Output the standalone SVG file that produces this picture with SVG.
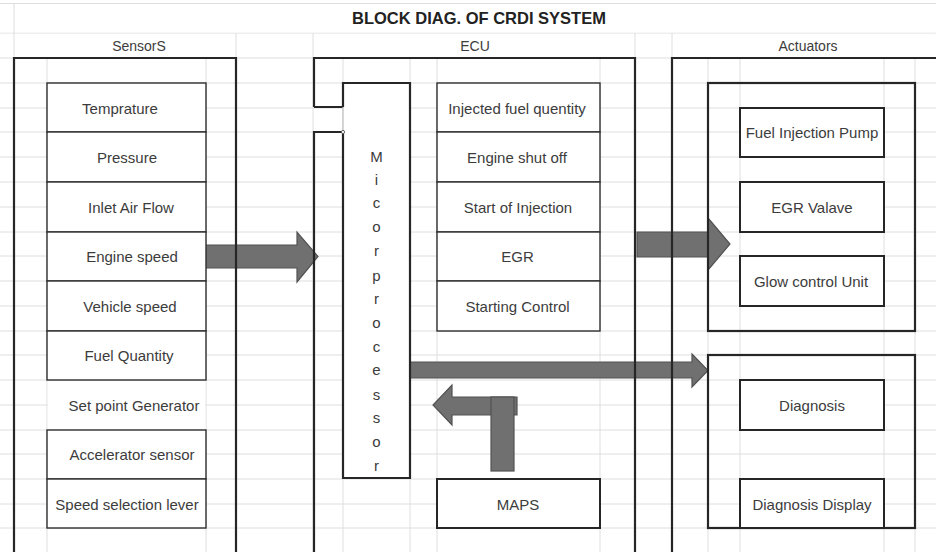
<svg xmlns="http://www.w3.org/2000/svg" width="936" height="552" viewBox="0 0 936 552">
<style>
.g{stroke:#dedede;stroke-width:1;fill:none}
.ob{fill:none;stroke:#262626;stroke-width:2.2}
.bx{fill:#fff;stroke:#2e2e2e;stroke-width:1.4}
.bx2{fill:#fff;stroke:#262626;stroke-width:2}
.t{font-family:"Liberation Sans",Arial,sans-serif;font-size:15px;fill:#3c3c3c;text-anchor:middle}
.h{font-family:"Liberation Sans",Arial,sans-serif;font-size:14px;fill:#3c3c3c;text-anchor:middle}
.ti{font-family:"Liberation Sans",Arial,sans-serif;font-size:16.5px;font-weight:bold;fill:#222;text-anchor:middle}
.ar{fill:#707070;stroke:#525252;stroke-width:1.2;stroke-linejoin:miter}
</style>
<rect width="936" height="552" fill="#fff"/>
<g id="grid">
<path class="g" d="M0,3.5H936M0,33H936M0,58H936M0,83H936M0,108H936M0,132H936M0,157H936M0,182H936M0,207H936M0,232H936M0,256H936M0,281H936M0,306H936M0,331H936M0,355H936M0,380H936M0,405H936M0,430H936M0,454H936M0,479H936M0,504H936M0,528H936"/>
<path class="g" d="M14,3.5V552M236,33V552M313,33V552M635,33V552M672,33V552M47,58V552M206,58V552M343,58V552M410,58V552M437,58V552M600,58V552M708,58V552M740,58V552M884,58V552M915,58V552"/>
</g>
<rect x="1" y="4.5" width="934" height="28" fill="#fff"/>
<path class="g" d="M14,3.5V33"/>
<g id="title"><text class="ti" x="479" y="24">BLOCK DIAG. OF CRDI SYSTEM</text></g>
<g id="headers">
<text class="h" x="139" y="51">SensorS</text>
<text class="h" x="475" y="51">ECU</text>
<text class="h" x="808" y="51">Actuators</text>
</g>
<g id="connectors">
<polygon class="ar" points="205,245 297,245 297,232 318,256.5 297,282 297,268 205,268"/>
<polygon class="ar" points="637,232 708,232 708,218 730,244 708,270 708,257 637,257"/>
<polygon class="ar" points="410,362 692,362 692,354 708,370.5 692,387 692,378 410,378"/>
<polygon class="ar" points="517,397 452,397 452,385 433,405 452,425 452,415 517,415"/>
<rect class="ar" x="491" y="397" width="23" height="74"/>
</g>
<g id="sensors">
<path class="ob" d="M14,552V58H236V552"/>
<g id="s-temp"><rect class="bx" x="47" y="83" width="159" height="49"/><text class="t" x="120" y="113.5">Temprature</text></g>
<g id="s-pres"><rect class="bx" x="47" y="132" width="159" height="50"/><text class="t" x="127" y="162.5">Pressure</text></g>
<g id="s-air"><rect class="bx" x="47" y="182" width="159" height="50"/><text class="t" x="131" y="212.5">Inlet Air Flow</text></g>
<g id="s-eng"><rect class="bx" x="47" y="232" width="159" height="49"/><text class="t" x="132" y="262">Engine speed</text></g>
<g id="s-veh"><rect class="bx" x="47" y="281" width="159" height="50"/><text class="t" x="130" y="311.5">Vehicle speed</text></g>
<g id="s-fuel"><rect class="bx" x="47" y="331" width="159" height="49"/><text class="t" x="129" y="360.5">Fuel Quantity</text></g>
<g id="s-set"><rect x="47.7" y="381" width="157.6" height="48.3" fill="#fff"/><text class="t" x="134" y="410.5">Set point Generator</text></g>
<g id="s-acc"><rect class="bx" x="47" y="430" width="159" height="49"/><text class="t" x="132" y="460">Accelerator sensor</text></g>
<g id="s-lev"><rect class="bx" x="47" y="479" width="159" height="49"/><text class="t" x="127" y="509.5">Speed selection lever</text></g>
</g>
<g id="ecu">
<path class="ob" d="M314,107V58H635V552M314,552V132H343M314,107H343"/>
<g id="micro">
<rect x="343" y="83" width="67" height="395" fill="#fff"/>
<path class="ob" d="M343,107V83H410V478H343V132"/>
<path d="M343,107V132" stroke="#bdbdbd" stroke-width="1.2"/>
<circle cx="343" cy="132" r="1.6" fill="#fff" stroke="#555" stroke-width="0.9"/>
<text class="t" x="376.5"><tspan x="376.5" y="162">M</tspan><tspan x="376.5" y="185">i</tspan><tspan x="376.5" y="208">c</tspan><tspan x="376.5" y="232">o</tspan><tspan x="376.5" y="256">r</tspan><tspan x="376.5" y="281">p</tspan><tspan x="376.5" y="304">r</tspan><tspan x="376.5" y="328">o</tspan><tspan x="376.5" y="352">c</tspan><tspan x="376.5" y="375">e</tspan><tspan x="376.5" y="400">s</tspan><tspan x="376.5" y="423">s</tspan><tspan x="376.5" y="447">o</tspan><tspan x="376.5" y="471">r</tspan></text>
</g>
<g id="e-inj"><rect class="bx" x="437" y="83" width="163" height="49"/><text class="t" x="517" y="113.5">Injected fuel quentity</text></g>
<g id="e-shut"><rect class="bx" x="437" y="132" width="163" height="50"/><text class="t" x="517" y="162.5">Engine shut off</text></g>
<g id="e-soi"><rect class="bx" x="437" y="182" width="163" height="50"/><text class="t" x="518" y="212.5">Start of Injection</text></g>
<g id="e-egr"><rect class="bx" x="437" y="232" width="163" height="49"/><text class="t" x="517.5" y="262">EGR</text></g>
<g id="e-start"><rect class="bx" x="437" y="281" width="163" height="50"/><text class="t" x="517.5" y="311.5">Starting Control</text></g>
<g id="e-maps"><rect class="bx2" x="437" y="479" width="163" height="49"/><text class="t" x="518" y="509.5">MAPS</text></g>
</g>
<g id="actuators">
<path class="ob" d="M672,552V58H937"/>
<rect class="ob" x="708" y="83" width="207" height="248"/>
<rect class="ob" x="708" y="355" width="207" height="173"/>
<g id="a-pump"><rect class="bx2" x="740" y="108" width="144" height="49"/><text class="t" x="812" y="138">Fuel Injection Pump</text></g>
<g id="a-egr"><rect class="bx2" x="740" y="182" width="144" height="50"/><text class="t" x="812" y="212.5">EGR Valave</text></g>
<g id="a-glow"><rect class="bx2" x="740" y="256" width="144" height="50"/><text class="t" x="811" y="286.5">Glow control Unit</text></g>
<g id="a-diag"><rect class="bx2" x="740" y="380" width="144" height="50"/><text class="t" x="812" y="410.5">Diagnosis</text></g>
<g id="a-disp"><rect class="bx2" x="740" y="479" width="144" height="49"/><text class="t" x="812" y="510">Diagnosis Display</text></g>
</g>
</svg>
